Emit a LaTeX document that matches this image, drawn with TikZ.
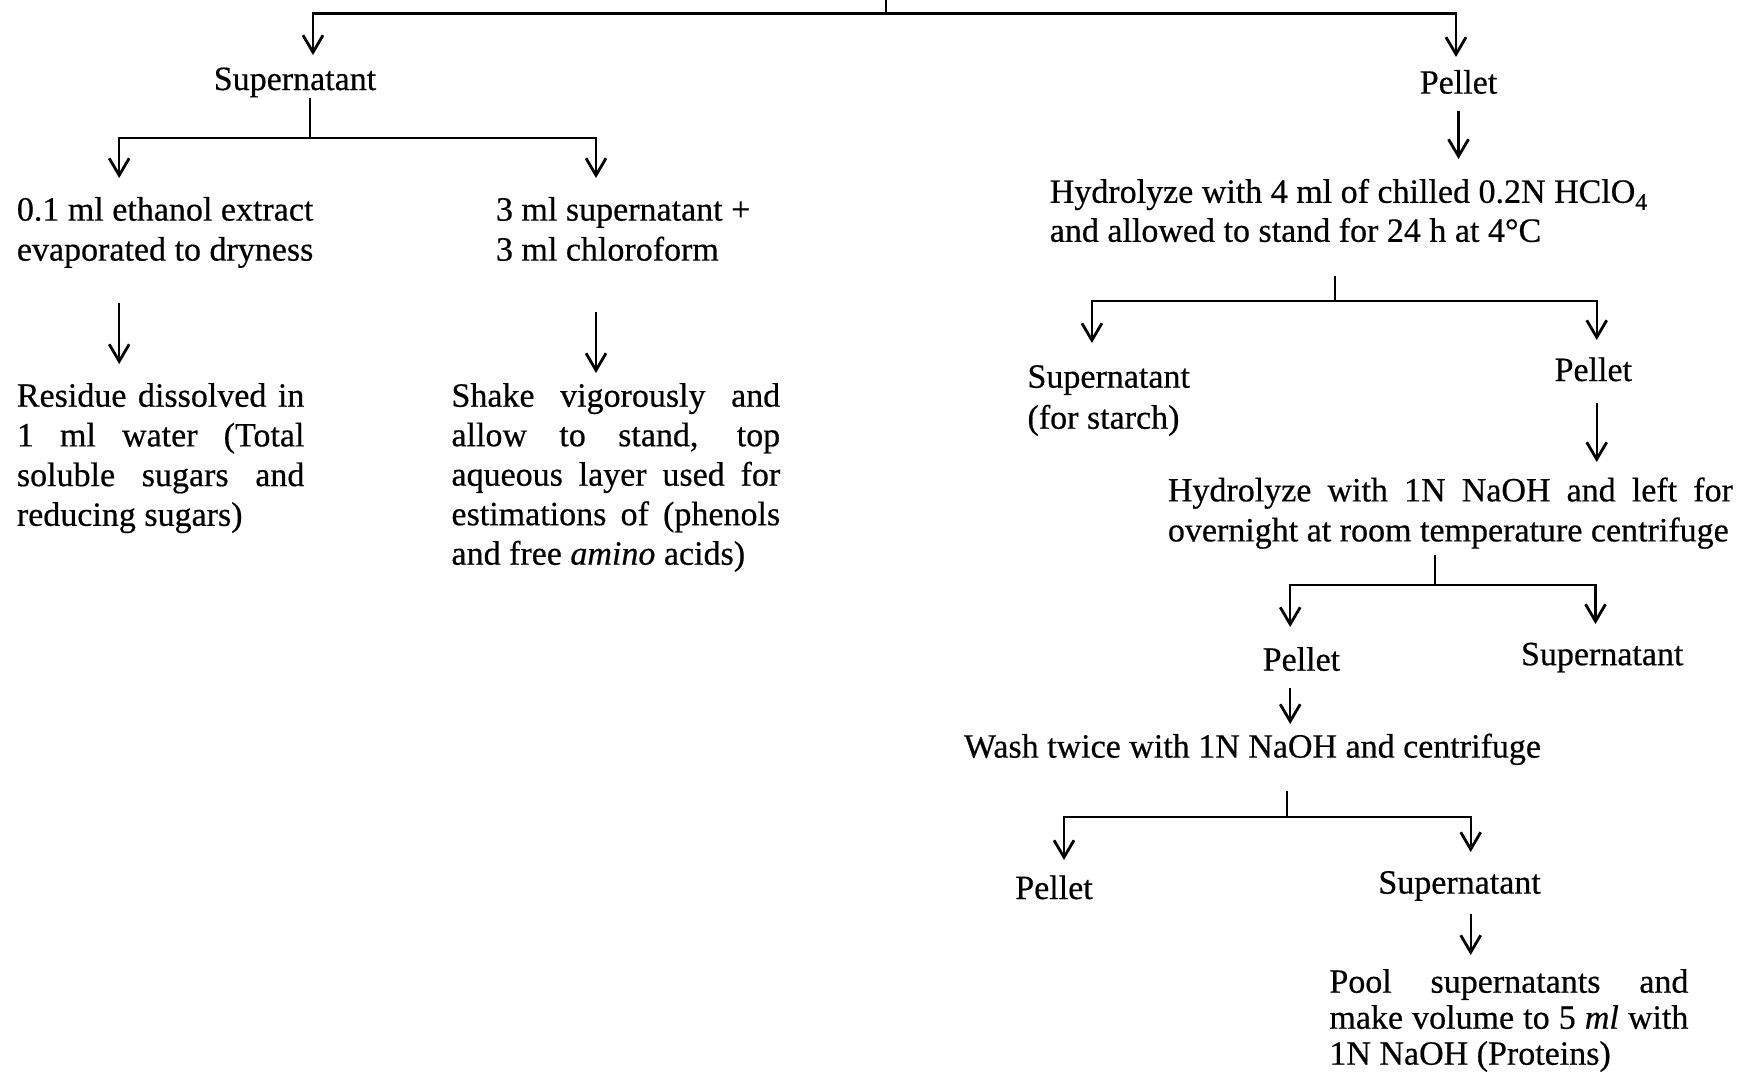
\documentclass[tikz,border=0pt]{standalone}
\usepackage{fontspec}
\setmainfont{Liberation Serif}[FakeBold=0.5]
\usetikzlibrary{arrows.meta}
\newcommand\jline[2]{\hbox to #1{#2}}
\newcommand\nline[1]{\hbox{#1}}
\newcommand\blk[2][40pt]{\vtop{\baselineskip=#1\relax\lineskiplimit=-20pt #2}}
\tikzset{
  lbl/.style={inner sep=0pt, font=\fontsize{34}{40}\selectfont, anchor=base},
  blkl/.style={lbl, anchor=base west},
  arr/.style={-{Straight Barb[length=17pt,width=20pt,line width=2.8pt]}},
  ln/.style={line width=2.2pt}
}
\begin{document}
\begin{tikzpicture}[x=1pt,y=-1pt]
\useasboundingbox (0,0) rectangle (1747,1077);
% nodes
\node[lbl] (sup1) at (295,90) {Supernatant};
\node[lbl] (pel1) at (1458.5,93.6) {Pellet};
\node[blkl] (eth) at (16.7,220.6) {\blk{\nline{0.1 ml ethanol extract}\nline{evaporated to dryness}}};
\node[blkl] (chl) at (495.8,220.6) {\blk{\nline{3 ml supernatant +}\nline{3 ml chloroform}}};
\node[blkl] (res) at (16.7,406.7) {\blk[39.7pt]{\jline{287.5pt}{Residue dissolved in}\jline{287.5pt}{1 ml water (Total}\jline{287.5pt}{soluble sugars and}\nline{reducing sugars)}}};
\node[blkl] (shk) at (451.3,406.7) {\blk[39.5pt]{\jline{328.7pt}{Shake vigorously and}\jline{328.7pt}{allow to stand, top}\jline{328.7pt}{aqueous layer used for}\jline{328.7pt}{estimations of (phenols}\nline{and free \textit{amino} acids)}}};
\node[blkl] (hyd1) at (1049.6,202.8) {\blk[39pt]{\nline{Hydrolyze with 4 ml of chilled 0.2N HClO\textsubscript{4}}\nline{and allowed to stand for 24 h at 4°C}}};
\node[blkl] (sup2) at (1027.3,387.7) {\blk[41pt]{\nline{Supernatant}\nline{(for starch)}}};
\node[lbl] (pel2) at (1593.3,381) {Pellet};
\node[blkl] (hyd2) at (1167.7,501.4) {\blk[40pt]{\jline{565pt}{Hydrolyze with 1N NaOH and left for}\nline{overnight at room temperature centrifuge}}};
\node[lbl] (pel3) at (1301.4,670.7) {Pellet};
\node[lbl] (sup3) at (1602.2,665.2) {Supernatant};
\node[blkl] (wash) at (963.8,757.6) {Wash twice with 1N NaOH and centrifuge};
\node[lbl] (pel4) at (1054,899) {Pellet};
\node[lbl] (sup4) at (1459.6,893.6) {Supernatant};
\node[blkl] (pool) at (1329.2,992.7) {\blk[36pt]{\jline{359pt}{Pool supernatants and}\jline{359pt}{make volume to 5 \textit{ml} with}\nline{1N NaOH (Proteins)}}};
% coordinates
\coordinate (t0) at (886,0);
\coordinate (t1) at (886,13.4);
\coordinate (tL) at (313,55);
\coordinate (tR) at (1456,57);
\coordinate (s1a) at (309.7,98);
\coordinate (s1b) at (309.7,138);
\coordinate (s1L) at (119.2,178);
\coordinate (s1R) at (596,178);
\coordinate (e1) at (119.2,303);
\coordinate (e2) at (119.2,364);
\coordinate (c1) at (596,312);
\coordinate (c2) at (596,373);
\coordinate (p1a) at (1458.5,111);
\coordinate (p1b) at (1458.5,159);
\coordinate (h1a) at (1334.8,276);
\coordinate (h1b) at (1334.8,300.8);
\coordinate (h1L) at (1091.9,343);
\coordinate (h1R) at (1596.7,340);
\coordinate (p2a) at (1596.7,403);
\coordinate (p2b) at (1596.7,462);
\coordinate (h2a) at (1435,555);
\coordinate (h2b) at (1435,585);
\coordinate (h2L) at (1290.2,627);
\coordinate (h2R) at (1595.5,624);
\coordinate (p3a) at (1290.2,687.5);
\coordinate (p3b) at (1290.2,724);
\coordinate (w1a) at (1286.9,791);
\coordinate (w1b) at (1286.9,816.7);
\coordinate (w1L) at (1064,860);
\coordinate (w1R) at (1470.7,852);
\coordinate (s4a) at (1470.7,913.6);
\coordinate (s4b) at (1470.7,955);
% connectors
\draw[ln] (t0) -- (t1);
\draw[ln,arr] (t1) -| (tL);
\draw[ln,arr] (t1) -| (tR);
\draw[ln] (s1a) -- (s1b);
\draw[ln,arr] (s1b) -| (s1L);
\draw[ln,arr] (s1b) -| (s1R);
\draw[ln,arr] (e1) -- (e2);
\draw[ln,arr] (c1) -- (c2);
\draw[ln,arr] (p1a) -- (p1b);
\draw[ln] (h1a) -- (h1b);
\draw[ln,arr] (h1b) -| (h1L);
\draw[ln,arr] (h1b) -| (h1R);
\draw[ln,arr] (p2a) -- (p2b);
\draw[ln] (h2a) -- (h2b);
\draw[ln,arr] (h2b) -| (h2L);
\draw[ln,arr] (h2b) -| (h2R);
\draw[ln,arr] (p3a) -- (p3b);
\draw[ln] (w1a) -- (w1b);
\draw[ln,arr] (w1b) -| (w1L);
\draw[ln,arr] (w1b) -| (w1R);
\draw[ln,arr] (s4a) -- (s4b);
\end{tikzpicture}
\end{document}
